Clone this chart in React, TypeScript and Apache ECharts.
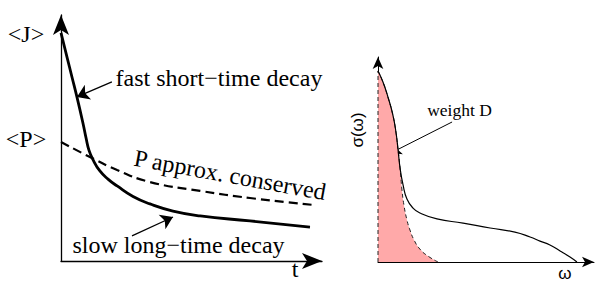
import React, { useEffect, useRef } from "react";
import * as echarts from "echarts";

// Left panel: <J>(t) current correlation (solid) and <P>(t) (dashed), t in 0..10, value in 0..10
const jDecay: [number, number][] = [
  [0, 9.27], [0.23, 8.29], [0.42, 7.48], [0.61, 6.67], [0.84, 5.61], [0.96, 5.0],
  [1.07, 4.51], [1.23, 4.11], [1.49, 3.66], [1.8, 3.33], [2.15, 3.05], [2.76, 2.62],
  [3.41, 2.32], [4.29, 2.03], [5.33, 1.83], [7.24, 1.63], [9.54, 1.38],
];
const pDecay: [number, number][] = [
  [0, 4.84], [1.03, 4.27], [2.15, 3.7], [3.41, 3.21], [5.33, 2.85], [7.24, 2.56], [9.66, 2.28],
];
// Right panel: sigma(omega), full (solid) and Drude weight part (dashed, shaded)
const sigmaFull: [number, number][] = [
  [0, 9.32], [0.23, 8.78], [0.46, 8.05], [0.69, 7.17], [0.83, 6.34], [0.93, 5.46],
  [1.02, 4.59], [1.16, 3.76], [1.34, 3.07], [1.62, 2.63], [1.94, 2.39], [2.73, 2.1],
  [3.94, 1.9], [5.19, 1.66], [6.34, 1.46], [7.04, 1.22], [7.5, 1.02], [7.96, 0.83],
  [8.43, 0.54], [8.89, 0.24], [9.21, 0],
];
const sigmaDrude: [number, number][] = [
  [0, 9.32], [0.23, 8.78], [0.46, 8.05], [0.69, 7.17], [0.83, 6.34], [0.93, 5.46],
  [1.02, 4.59], [1.11, 3.51], [1.2, 2.78], [1.34, 2.05], [1.48, 1.56], [1.67, 1.07],
  [1.94, 0.63], [2.31, 0.29], [2.78, 0],
];
const drudeEdge: [number, number][] = [[0, 0], [0, 9.32]];
// annotation arrows [from, to]
const fastArrow: [number, number][] = [[1.95, 7.28], [0.61, 6.67]];
const slowArrow: [number, number][] = [[2.72, 1.02], [4.29, 1.79]];
const weightArrow: [number, number][] = [[3.43, 6.83], [0.6, 5.32]];

const serif = "Liberation Serif";
const sans = "Liberation Sans";

function txt(text: string, x: number, y: number, size: number, family: string, rotation = 0) {
  return {
    type: "text",
    x,
    y,
    rotation,
    silent: true,
    style: {
      text,
      fontSize: size,
      fontFamily: family,
      fill: "#000",
      textAlign: "center",
      textVerticalAlign: "middle",
      align: "center",
      verticalAlign: "middle",
    },
  };
}

function axis(idx: number, sym: number[], width: number) {
  return {
    type: "value",
    gridIndex: idx,
    min: 0,
    max: 10,
    axisLine: {
      show: true,
      onZero: false,
      symbol: ["none", "arrow"],
      symbolSize: sym,
      lineStyle: { color: "#000", width },
    },
    axisTick: { show: false },
    axisLabel: { show: false },
    splitLine: { show: false },
  };
}

export default function App() {
  const ref = useRef<HTMLDivElement>(null);
  useEffect(() => {
    document.body.style.margin = "0";
    const chart = echarts.init(ref.current!, null, { renderer: "svg" });
    chart.setOption({
      animation: false,
      backgroundColor: "#fff",
      grid: [
        { left: 61, top: 15, width: 261, height: 246 },
        { left: 378, top: 57, width: 216, height: 205 },
      ],
      xAxis: [axis(0, [12, 20], 1.3), axis(1, [8, 12], 1)],
      yAxis: [axis(0, [12, 20], 1.3), axis(1, [8, 12], 1)],
      series: [
        {
          type: "line",
          xAxisIndex: 0,
          yAxisIndex: 0,
          data: pDecay,
          smooth: 0.5,
          symbol: "none",
          silent: true,
          lineStyle: { color: "#000", width: 2.2, type: [9, 5] },
        },
        {
          type: "line",
          xAxisIndex: 0,
          yAxisIndex: 0,
          data: jDecay,
          smooth: 0.5,
          symbol: "none",
          silent: true,
          lineStyle: { color: "#000", width: 2.8 },
        },
        {
          type: "line",
          xAxisIndex: 1,
          yAxisIndex: 1,
          data: sigmaDrude,
          smooth: 0.5,
          symbol: "none",
          silent: true,
          areaStyle: { color: "#ffa9a9", opacity: 1 },
          lineStyle: { color: "#222", width: 1, type: [4, 3] },
        },
        {
          type: "line",
          xAxisIndex: 1,
          yAxisIndex: 1,
          data: drudeEdge,
          symbol: "none",
          silent: true,
          lineStyle: { color: "#222", width: 1, type: [4, 3] },
        },
        {
          type: "line",
          xAxisIndex: 1,
          yAxisIndex: 1,
          data: sigmaFull,
          smooth: 0.5,
          symbol: "none",
          silent: true,
          lineStyle: { color: "#000", width: 1.2 },
        },
        {
          type: "lines",
          coordinateSystem: "cartesian2d",
          xAxisIndex: 0,
          yAxisIndex: 0,
          symbol: ["none", "arrow"],
          symbolSize: 12,
          silent: true,
          lineStyle: { color: "#000", width: 1.3, opacity: 1 },
          data: [{ coords: fastArrow }, { coords: slowArrow }],
        },
        {
          type: "lines",
          coordinateSystem: "cartesian2d",
          xAxisIndex: 1,
          yAxisIndex: 1,
          symbol: ["none", "arrow"],
          symbolSize: 10,
          silent: true,
          lineStyle: { color: "#000", width: 1, opacity: 1 },
          data: [{ coords: weightArrow }],
        },
      ],
      graphic: [
        txt("<J>", 26, 34, 24, serif),
        txt("<P>", 26, 139, 24, serif),
        txt("fast short\u2212time decay", 219, 78, 24, serif),
        txt("P approx. conserved", 230, 175, 24, serif, -0.18),
        txt("slow long\u2212time decay", 178.5, 245, 24, serif),
        txt("t", 295, 269, 24, serif),
        txt("weight D", 459.5, 110, 17.5, serif),
        txt("\u03c3(\u03c9)", 357.5, 130, 17, sans, Math.PI / 2),
        txt("\u03c9", 565, 273, 17, sans),
      ],
    });
    return () => chart.dispose();
  }, []);
  return <div ref={ref} style={{ width: 601, height: 282 }} />;
}
